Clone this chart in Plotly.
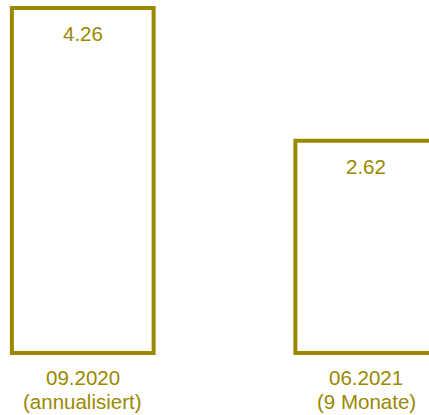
import plotly.graph_objects as go

# Reporting periods and their values
periods = ["09.2020", "06.2021"]
notes = ["(annualisiert)", "(9 Monate)"]
values = [4.26, 2.62]

OLIVE = "#9a8800"
FONT = "Arial"
SIZE = 20.5

fig = go.Figure(
    go.Bar(
        x=periods,
        y=values,
        width=0.5,
        marker=dict(color="white", line=dict(color=OLIVE, width=4)),
        hoverinfo="skip",
    )
)

for i, (p, n, v) in enumerate(zip(periods, notes, values)):
    # value label just inside the top edge of the bar
    fig.add_annotation(x=i, y=v, xref="x", yref="y", text=f"{v:.2f}",
                       showarrow=False, yanchor="middle", yshift=-25.5,
                       font=dict(family=FONT, size=SIZE, color=OLIVE))
    # two-line category label below the baseline
    fig.add_annotation(x=i, y=0, xref="x", yref="paper", text=p,
                       showarrow=False, yanchor="middle", yshift=-17.5,
                       font=dict(family=FONT, size=SIZE, color=OLIVE))
    fig.add_annotation(x=i, y=0, xref="x", yref="paper", text=n,
                       showarrow=False, yanchor="middle", yshift=-41,
                       font=dict(family=FONT, size=SIZE, color=OLIVE))

hidden = dict(showticklabels=False, showgrid=False, zeroline=False,
              showline=False, ticks="")
fig.update_layout(
    width=429,
    height=415,
    margin=dict(l=0, r=0, t=0, b=55),
    paper_bgcolor="white",
    plot_bgcolor="white",
    showlegend=False,
    xaxis=dict(type="category", range=[-0.2919, 1.2213], **hidden),
    yaxis=dict(range=[-0.0864, 4.3589], **hidden),
)

fig.write_html("out.html")
